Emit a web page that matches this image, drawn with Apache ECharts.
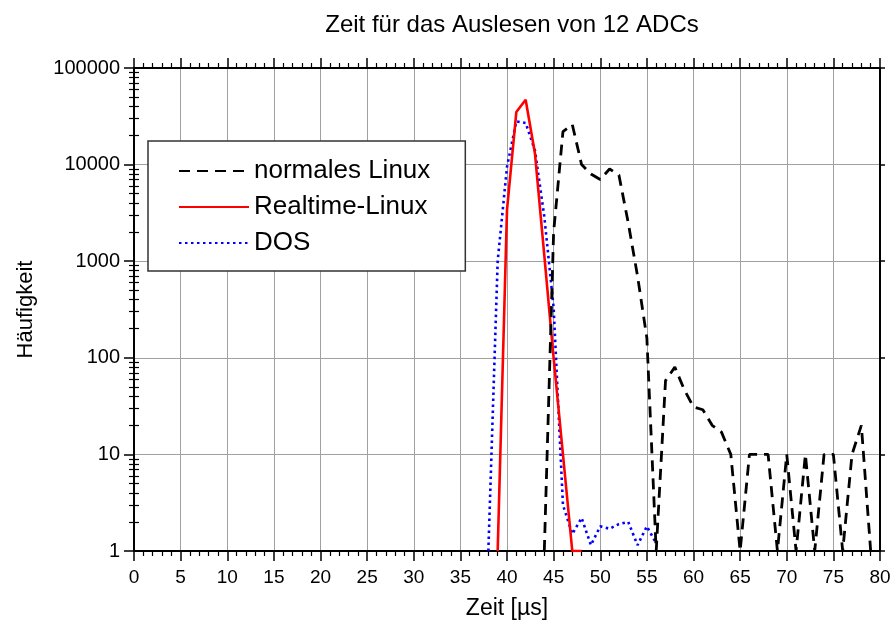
<!DOCTYPE html>
<html>
<head>
<meta charset="utf-8">
<script src="https://cdn.jsdelivr.net/npm/echarts@6/dist/echarts.min.js"></script>
<style>
html,body{margin:0;padding:0;background:#fff;}
#c{width:895px;height:630px;}
</style>
</head>
<body>
<div id="c"></div>
<script>
// ---- data ----
const titleText = 'Zeit für das Auslesen von 12 ADCs';
const xAxisName = 'Zeit [µs]';
const yAxisName = 'Häufigkeit';
const seriesNames = ['normales Linux', 'Realtime-Linux', 'DOS'];

const xNormal = [44,45,46,47,48,49,50,51,52,53,54,55,56,57,58,59,60,61,62,63,64,65,66,67,68,69,70,71,72,73,74,75,76,77,78,79];
const yNormal = [1,2000,22000,26000,10000,8000,7000,9000,7800,2500,700,160,1,58,80,47,31,29,20,17,10,1,10,10,10,1,10,1,10,1,10,10,1,10,20,1];

const xRealtime = [39,40,41,42,43,44,45,46,47,48];
const yRealtime = [1,3400,35000,47000,13000,1150,100,10,1,1];

const xDos = [38,39,40,41,42,43,44,45,46,47,48,49,50,51,52,53,54,55,56];
const yDos = [1,1000,9500,28000,27000,14000,2900,330,3,1.5,2.2,1.15,1.8,1.7,1.9,2.0,1.15,1.8,1.2];

const xTickValues = [0,5,10,15,20,25,30,35,40,45,50,55,60,65,70,75,80];
const yTickLabels = ['1','10','100','1000','10000','100000'];
const yDecades = [1,10,100,1000,10000];
const yMinorFactors = [2,3,4,5,6,7,8,9];

// ---- build ----
const yMinorTicks = [];
yDecades.forEach(d => yMinorFactors.forEach(f => yMinorTicks.push(d*f)));
const pair = (xs, ys) => xs.map((x,i)=>[x, ys[i]]);

const FONT = 'Liberation Sans, Arial, sans-serif';
const gridColor = '#a0a0a0';

const chart = echarts.init(document.getElementById('c'), null, {renderer:'canvas'});

const yBase = {
  type: 'log', logBase: 10, min: 1, max: 100000,
  gridIndex: 0
};

chart.setOption({
  animation: false,
  backgroundColor: '#ffffff',
  title: {
    text: titleText,
    left: 507, top: 8, textAlign: 'center',
    textStyle: {fontFamily: FONT, fontSize: 24, fontWeight: 'normal', color: '#000'}
  },
  legend: {
    orient: 'vertical',
    left: 148, top: 141,
    padding: [17, 35, 15, 30],
    itemWidth: 70, itemHeight: 14, itemGap: 10,
    backgroundColor: '#fff',
    borderColor: '#333', borderWidth: 1.5,
    itemStyle: {opacity: 0},
    textStyle: {fontFamily: FONT, fontSize: 26, color: '#000'},
    data: seriesNames
  },
  grid: {left: 134, right: 15, top: 68, bottom: 79, containLabel: false},
  xAxis: [
    {
      type: 'value', min: 0, max: 80, interval: 5, position: 'bottom',
      name: xAxisName, nameLocation: 'middle', nameGap: 46,
      nameTextStyle: {fontFamily: FONT, fontSize: 23, color: '#000'},
      axisLine: {show: true, onZero: false, lineStyle: {color: '#000', width: 2}},
      axisTick: {show: true, length: 10, lineStyle: {color: '#000', width: 1.5}},
      minorTick: {show: true, splitNumber: 5, length: 5, lineStyle: {color: '#000', width: 1.2}},
      axisLabel: {fontFamily: FONT, fontSize: 19, color: '#000', margin: 17},
      splitLine: {show: true, lineStyle: {color: gridColor, width: 1}}
    },
    {
      type: 'value', min: 0, max: 80, interval: 5, position: 'top',
      axisLine: {show: true, onZero: false, lineStyle: {color: '#000', width: 2}},
      axisTick: {show: true, length: 10, lineStyle: {color: '#000', width: 1.5}},
      minorTick: {show: true, splitNumber: 5, length: 5, lineStyle: {color: '#000', width: 1.2}},
      axisLabel: {show: false},
      splitLine: {show: false}
    }
  ],
  yAxis: [
    Object.assign({}, yBase, {
      position: 'left',
      name: yAxisName, nameLocation: 'middle', nameGap: 97,
      nameTextStyle: {fontFamily: FONT, fontSize: 22, color: '#000'},
      axisLine: {show: true, onZero: false, lineStyle: {color: '#000', width: 2}},
      axisTick: {show: true, length: 10, lineStyle: {color: '#000', width: 1.5}},
      axisLabel: {fontFamily: FONT, fontSize: 20, color: '#000', margin: 14,
        formatter: (v) => yTickLabels[Math.round(Math.log10(v))]},
      splitLine: {show: true, lineStyle: {color: gridColor, width: 1}}
    }),
    Object.assign({}, yBase, {
      position: 'right',
      axisLine: {show: true, onZero: false, lineStyle: {color: '#000', width: 2}},
      axisTick: {show: true, length: 5, lineStyle: {color: '#000', width: 1.5}},
      axisLabel: {show: false},
      splitLine: {show: false}
    }),
    Object.assign({}, yBase, {
      position: 'left',
      axisLine: {show: false},
      axisTick: {show: true, length: 5, customValues: yMinorTicks, lineStyle: {color: '#000', width: 1.2}},
      axisLabel: {show: false},
      splitLine: {show: false}
    }),
    Object.assign({}, yBase, {
      position: 'right',
      axisLine: {show: false},
      axisTick: {show: true, length: 5, customValues: yMinorTicks, lineStyle: {color: '#000', width: 1.2}},
      axisLabel: {show: false},
      splitLine: {show: false}
    })
  ],
  series: [
    {
      name: seriesNames[0], type: 'line', xAxisIndex: 0, yAxisIndex: 0,
      data: pair(xNormal, yNormal), symbol: 'none', z: 4, clip: true,
      lineStyle: {color: '#000', width: 2.8, type: [11, 7]},
      itemStyle: {color: '#000'}
    },
    {
      name: seriesNames[1], type: 'line', xAxisIndex: 0, yAxisIndex: 0,
      data: pair(xRealtime, yRealtime), symbol: 'none', z: 3, clip: true,
      lineStyle: {color: '#ff0000', width: 2.6, type: 'solid'},
      itemStyle: {color: '#ff0000'}
    },
    {
      name: seriesNames[2], type: 'line', xAxisIndex: 0, yAxisIndex: 0,
      data: pair(xDos, yDos), symbol: 'none', z: 2, clip: true,
      lineStyle: {color: '#0000ff', width: 2.6, type: [2.5, 3.5]},
      itemStyle: {color: '#0000ff'}
    }
  ]
});
</script>
</body>
</html>
